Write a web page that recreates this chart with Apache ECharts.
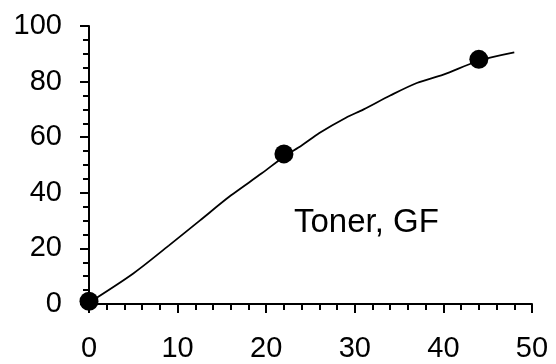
<!DOCTYPE html>
<html>
<head>
<meta charset="utf-8">
<script src="https://cdn.jsdelivr.net/npm/echarts@6/dist/echarts.min.js"></script>
<style>
  html, body { margin: 0; padding: 0; background: #fff; }
  #chart { width: 556px; height: 364px; }
</style>
</head>
<body>
<div id="chart"></div>
<script>
// fitted curve
var curveX = [0, 5, 9, 12.5, 16, 19.5, 22, 24, 26, 29, 31, 34, 37, 40, 44, 48];
var curveY = [0.5, 11, 21, 30, 39, 47, 53, 57, 61.5, 67, 70, 75, 79.5, 82.5, 87.5, 90.5];
// measured points
var pointX = [0, 22, 44];
var pointY = [1, 54, 88];
var seriesLabel = 'Toner, GF';

var chart = echarts.init(document.getElementById('chart'));

var labelFont = { color: '#000', fontSize: 29, fontFamily: 'Liberation Sans, Arial, sans-serif' };

chart.setOption({
    animation: false,
    grid: { left: 89, right: 24, top: 26, bottom: 60 },
    xAxis: {
        type: 'value',
        min: 0, max: 50, interval: 10,
        axisLine: { show: true, onZero: false, lineStyle: { color: '#000', width: 2 } },
        axisTick: { show: true, length: 9, lineStyle: { color: '#000', width: 2 } },
        minorTick: { show: true, splitNumber: 5, length: 6, lineStyle: { color: '#000', width: 2 } },
        splitLine: { show: false },
        axisLabel: Object.assign({ margin: 30 }, labelFont)
    },
    yAxis: {
        type: 'value',
        min: 0, max: 100, interval: 20,
        axisLine: { show: true, onZero: false, lineStyle: { color: '#000', width: 2 } },
        axisTick: { show: true, length: 9, lineStyle: { color: '#000', width: 2 } },
        minorTick: { show: true, splitNumber: 4, length: 6, lineStyle: { color: '#000', width: 2 } },
        splitLine: { show: false },
        axisLabel: Object.assign({ margin: 27 }, labelFont)
    },
    graphic: [{
        type: 'text',
        left: 294,
        top: 206,
        style: {
            text: seriesLabel,
            fill: '#000',
            font: '33px "Liberation Sans", Arial, sans-serif'
        }
    }],
    series: [
        {
            type: 'line',
            data: curveX.map(function (x, i) { return [x, curveY[i]]; }),
            showSymbol: false,
            smooth: 0.3,
            lineStyle: { color: '#000', width: 1.8 },
            z: 2
        },
        {
            type: 'scatter',
            data: pointX.map(function (x, i) { return [x, pointY[i]]; }),
            symbol: 'circle',
            symbolSize: 19,
            itemStyle: { color: '#000', opacity: 1 },
            z: 3
        }
    ]
});
</script>
</body>
</html>
